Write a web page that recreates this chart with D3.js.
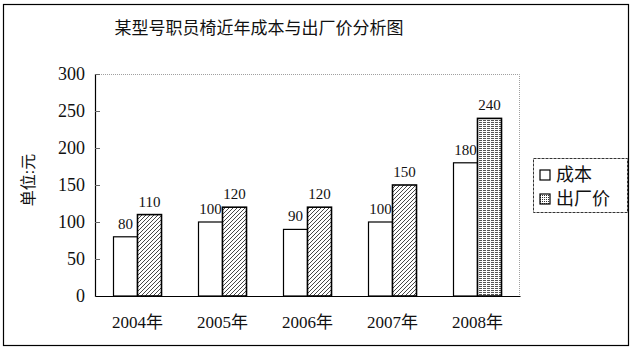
<!DOCTYPE html>
<html>
<head>
<meta charset="utf-8">
<script src="https://cdn.jsdelivr.net/npm/d3@7"></script>
<style>
  body { margin: 0; background: #fff; }
  svg { display: block; }
</style>
</head>
<body>
<div id="chart"></div>
<script>
const years = ["2004年", "2005年", "2006年", "2007年", "2008年"];
const cost = [80, 100, 90, 100, 180];
const price = [110, 120, 120, 150, 240];
const yTicks = [0, 50, 100, 150, 200, 250, 300];
const seriesNames = ["成本", "出厂价"];

const W = 633, H = 353;
const FONT = "'Liberation Serif', 'Noto Sans CJK SC', serif";
const margin = { top: 74, right: 113, bottom: 57, left: 95 };
const w = W - margin.left - margin.right;
const h = H - margin.top - margin.bottom;

const svg = d3.select("#chart").append("svg")
  .attr("width", W).attr("height", H);

const defs = svg.append("defs");
const hatch = defs.append("pattern").attr("id", "hatch")
  .attr("patternUnits", "userSpaceOnUse").attr("width", 4).attr("height", 4);
hatch.append("rect").attr("width", 4).attr("height", 4).attr("fill", "#fff");
hatch.append("path").attr("d", "M-1,1 l2,-2 M0,4 l4,-4 M3,5 l2,-2")
  .attr("stroke", "#333").attr("stroke-width", 0.9);

const lines = defs.append("pattern").attr("id", "lines")
  .attr("patternUnits", "userSpaceOnUse").attr("width", 4).attr("height", 2);
lines.append("rect").attr("width", 4).attr("height", 2).attr("fill", "#fff");
lines.append("path").attr("d", "M0,0.5 h4").attr("stroke", "#555")
  .attr("stroke-width", 1).attr("stroke-dasharray", "3,1");

const grid = defs.append("pattern").attr("id", "dots")
  .attr("patternUnits", "userSpaceOnUse").attr("width", 2).attr("height", 2);
grid.append("rect").attr("width", 2).attr("height", 2).attr("fill", "#fff");
grid.append("rect").attr("width", 1).attr("height", 1).attr("fill", "#333");

// outer frame
svg.append("rect").attr("x", 3.5).attr("y", 4.5).attr("width", 625).attr("height", 341)
  .attr("fill", "none").attr("stroke", "#000").attr("stroke-width", 1.2);

svg.append("text").attr("x", 259).attr("y", 34).attr("text-anchor", "middle")
  .attr("font-family", FONT).attr("font-size", 17).attr("fill", "#111")
  .text("某型号职员椅近年成本与出厂价分析图");

const g = svg.append("g").attr("transform", `translate(${margin.left},${margin.top})`);

const x = d3.scaleBand().domain(years).range([0, w]);
const y = d3.scaleLinear().domain([0, 300]).range([h, 0]);
const barW = 24;

// plot area border (light dotted top/right)
g.append("path").attr("d", `M0,0.5 H${w - 0.5} V${h}`)
  .attr("fill", "none").attr("stroke", "#888").attr("stroke-width", 0.8)
  .attr("stroke-dasharray", "1,1");

g.append("g")
  .call(d3.axisLeft(y).tickValues(yTicks).tickSize(-5).tickPadding(10))
  .call(a => a.select(".domain").attr("stroke", "#000").attr("stroke-width", 1.2))
  .call(a => a.selectAll(".tick line").attr("stroke", "#666"))
  .call(a => a.selectAll(".tick text").attr("font-family", FONT)
    .attr("font-size", 18).attr("fill", "#111"));

g.append("g").attr("transform", `translate(0,${h})`)
  .call(d3.axisBottom(x).tickSize(0).tickPadding(20))
  .call(a => a.select(".domain").attr("stroke", "#000").attr("stroke-width", 1.2))
  .call(a => a.selectAll(".tick text").attr("font-family", FONT)
    .attr("font-size", 17).attr("fill", "#111"));

svg.append("text")
  .attr("transform", "translate(28,180) rotate(-90)")
  .attr("text-anchor", "middle").attr("dy", "0.35em").attr("font-family", FONT)
  .attr("font-size", 16).attr("fill", "#111").text("单位:元");

const cx = d => x(d) + x.bandwidth() / 2;

g.selectAll(".cost").data(years).join("rect").attr("class", "cost")
  .attr("x", d => cx(d) - barW).attr("y", (d, i) => y(cost[i]))
  .attr("width", barW).attr("height", (d, i) => h - y(cost[i]))
  .attr("fill", "#fff").attr("stroke", "#000").attr("stroke-width", 1.2);

g.selectAll(".price").data(years).join("rect").attr("class", "price")
  .attr("x", d => cx(d)).attr("y", (d, i) => y(price[i]))
  .attr("width", barW).attr("height", (d, i) => h - y(price[i]))
  .attr("fill", (d, i) => i === years.length - 1 ? "url(#lines)" : "url(#hatch)")
  .attr("stroke", "#000").attr("stroke-width", 1.6);

g.selectAll(".cost-label").data(years).join("text").attr("class", "cost-label")
  .attr("x", d => cx(d) - barW / 2).attr("y", (d, i) => y(cost[i]) - 8)
  .attr("text-anchor", "middle").attr("font-family", FONT)
  .attr("font-size", 15).attr("fill", "#111")
  .text((d, i) => cost[i]);

g.selectAll(".price-label").data(years).join("text").attr("class", "price-label")
  .attr("x", d => cx(d) + barW / 2).attr("y", (d, i) => y(price[i]) - 8)
  .attr("text-anchor", "middle").attr("font-family", FONT)
  .attr("font-size", 15).attr("fill", "#111")
  .text((d, i) => price[i]);

// legend
const legend = svg.append("g").attr("transform", "translate(533,158)");
legend.append("rect").attr("x", 0.5).attr("y", 0.5).attr("width", 94).attr("height", 54)
  .attr("fill", "#fff").attr("stroke", "#333").attr("stroke-width", 1)
  .attr("stroke-dasharray", "3,1");
seriesNames.forEach((name, i) => {
  const row = legend.append("g").attr("transform", `translate(7,${17 + i * 24})`);
  row.append("rect").attr("x", 0).attr("y", -5).attr("width", 10).attr("height", 10)
    .attr("fill", i === 0 ? "#fff" : "url(#dots)").attr("stroke", "#000").attr("stroke-width", 1.2);
  row.append("text").attr("x", 16).attr("y", 0).attr("dy", "0.36em")
    .attr("font-family", FONT).attr("font-size", 18).attr("fill", "#111")
    .text(name);
});
</script>
</body>
</html>
